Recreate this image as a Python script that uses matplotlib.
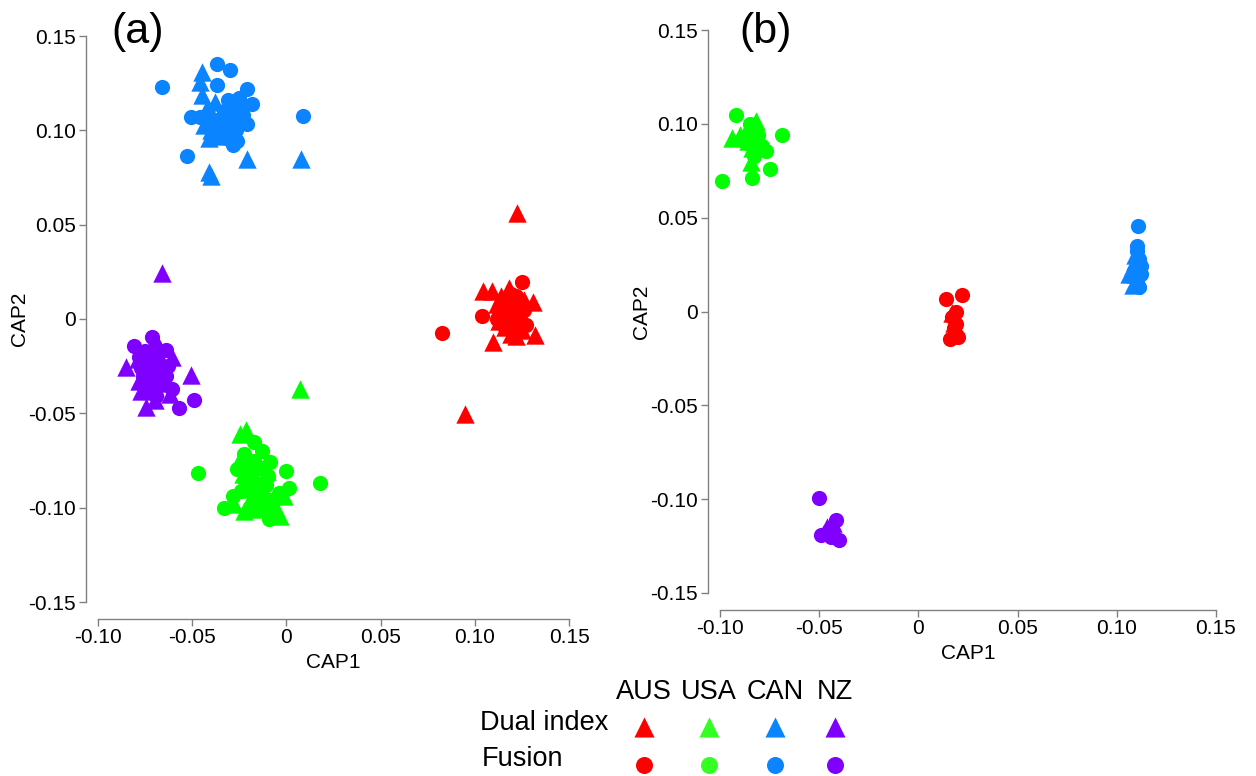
import matplotlib
matplotlib.use("Agg")
import matplotlib.pyplot as plt

plt.rcParams['font.family'] = ['Liberation Sans', 'DejaVu Sans']

countries = ["AUS", "USA", "CAN", "NZ"]
colors = {"AUS": "#FF0000", "USA": "#00FF00", "CAN": "#0A84FF", "NZ": "#8000FF"}
legend_colors = {"AUS": "#FF0000", "USA": "#33FF22", "CAN": "#0A84FF", "NZ": "#8000FF"}
methods = ["Dual index", "Fusion"]
x_ticks = [-0.10, -0.05, 0, 0.05, 0.10, 0.15]
x_ticklabels = ["-0.10", "-0.05", "0", "0.05", "0.10", "0.15"]
y_ticks = [-0.15, -0.10, -0.05, 0, 0.05, 0.10, 0.15]
y_ticklabels = ["-0.15", "-0.10", "-0.05", "0", "0.05", "0.10", "0.15"]

# ---- Panel (a) ----
a_AUS_dual = [(0.1225, 0.0563), (0.1045, 0.0151), (0.109, 0.0151), (0.1183, 0.0164), (0.131, 0.0092),
              (0.1095, -0.0121), (0.1319, -0.0085), (0.0948, -0.0503), (0.112, 0.008), (0.116, -0.004),
              (0.121, 0.003), (0.125, -0.006), (0.114, 0.012), (0.119, -0.008), (0.113, -0.001),
              (0.126, 0.010), (0.117, 0.006), (0.122, -0.009)]
a_AUS_fusion = [(0.1248, 0.0194), (0.1037, 0.0016), (0.0825, -0.0076), (0.1195, 0.0048), (0.115, 0.010),
                (0.122, 0.012), (0.118, -0.002), (0.124, 0.002), (0.113, 0.004), (0.127, -0.003),
                (0.120, 0.008), (0.116, -0.005), (0.112, 0.000), (0.119, 0.013), (0.123, -0.004),
                (0.117, 0.002), (0.121, -0.007), (0.114, 0.007), (0.126, 0.005)]
a_USA_dual = [(-0.0244, -0.061), (-0.0217, -0.059), (0.0074, -0.0373), (-0.0032, -0.1045), (-0.0226, -0.1018),
              (-0.0102, -0.0805), (-0.0014, -0.0938), (-0.018, -0.1005), (-0.028, -0.098), (-0.013, -0.097),
              (-0.020, -0.090), (-0.016, -0.085), (-0.006, -0.099), (-0.025, -0.075), (-0.019, -0.095),
              (-0.012, -0.091), (-0.023, -0.082)]
a_USA_fusion = [(-0.0173, -0.0654), (-0.047, -0.0817), (0.018, -0.0867), (0.0, -0.0805), (0.0012, -0.0894),
                (-0.0332, -0.1004), (-0.0282, -0.0938), (-0.0094, -0.1062), (-0.0085, -0.076), (-0.0226, -0.0716),
                (-0.0261, -0.0796), (-0.018, -0.0867), (-0.014, -0.079), (-0.020, -0.083), (-0.011, -0.088),
                (-0.016, -0.094), (-0.004, -0.092), (-0.022, -0.086), (-0.013, -0.070), (-0.008, -0.096),
                (-0.017, -0.075), (-0.021, -0.078), (-0.015, -0.089), (-0.010, -0.083), (-0.019, -0.099),
                (-0.012, -0.101), (-0.024, -0.091)]
a_CAN_dual = [(-0.0447, 0.131), (-0.0456, 0.1256), (-0.0447, 0.1185), (-0.0411, 0.0777), (-0.0400, 0.0760),
              (-0.0208, 0.0848), (0.0075, 0.0848), (-0.0430, 0.109), (-0.0400, 0.100), (-0.038, 0.097),
              (-0.035, 0.104), (-0.042, 0.112), (-0.033, 0.099), (-0.030, 0.107), (-0.038, 0.115),
              (-0.027, 0.111), (-0.044, 0.103), (-0.036, 0.101), (-0.041, 0.096), (-0.032, 0.102),
              (-0.039, 0.107)]
a_CAN_fusion = [(-0.0658, 0.123), (-0.0367, 0.135), (-0.0297, 0.132), (-0.0367, 0.1238), (-0.0208, 0.122),
                (-0.0182, 0.114), (-0.0508, 0.107), (-0.0208, 0.1034), (-0.0261, 0.0945), (-0.0282, 0.092),
                (-0.0526, 0.0865), (0.0088, 0.1075), (-0.025, 0.117), (-0.028, 0.113), (-0.033, 0.110),
                (-0.023, 0.108), (-0.030, 0.104), (-0.046, 0.107), (-0.035, 0.106), (-0.027, 0.100),
                (-0.031, 0.116), (-0.026, 0.106), (-0.034, 0.099), (-0.029, 0.110), (-0.024, 0.112),
                (-0.037, 0.103), (-0.032, 0.096)]
a_NZ_dual = [(-0.0853, -0.0254), (-0.0508, -0.0298), (-0.0747, -0.0467), (-0.0662, 0.0245), (-0.0605, -0.0201),
             (-0.0700, -0.0430), (-0.0780, -0.033), (-0.072, -0.018), (-0.066, -0.028), (-0.075, -0.024),
             (-0.070, -0.036), (-0.062, -0.040), (-0.079, -0.021), (-0.068, -0.014), (-0.073, -0.029),
             (-0.065, -0.034), (-0.077, -0.038)]
a_NZ_fusion = [(-0.0570, -0.047), (-0.049, -0.0427), (-0.0711, -0.0094), (-0.0809, -0.0144), (-0.064, -0.0165),
               (-0.0605, -0.037), (-0.072, -0.027), (-0.076, -0.030), (-0.068, -0.022), (-0.074, -0.038),
               (-0.066, -0.032), (-0.078, -0.020), (-0.070, -0.015), (-0.063, -0.025), (-0.073, -0.033),
               (-0.069, -0.041), (-0.071, -0.022), (-0.067, -0.027), (-0.075, -0.017), (-0.064, -0.030),
               (-0.072, -0.036), (-0.077, -0.026), (-0.069, -0.031)]

# ---- Panel (b) ----
b_AUS_dual = [(0.017, -0.001), (0.018, -0.006)]
b_AUS_fusion = [(0.014, 0.0064), (0.0219, 0.009), (0.019, -0.0004), (0.019, -0.0064), (0.0157, -0.0145),
                (0.0198, -0.0137), (0.017, -0.003), (0.018, -0.009)]
b_USA_dual = [(-0.0938, 0.0927), (-0.0845, 0.0794), (-0.082, 0.1016), (-0.087, 0.096), (-0.090, 0.094),
              (-0.084, 0.087), (-0.086, 0.091)]
b_USA_fusion = [(-0.0921, 0.1048), (-0.0685, 0.0941), (-0.0988, 0.0693), (-0.0837, 0.0711), (-0.0749, 0.0759),
                (-0.0854, 0.0892), (-0.0769, 0.0856), (-0.085, 0.100), (-0.081, 0.094), (-0.088, 0.091),
                (-0.079, 0.088), (-0.083, 0.083)]
b_CAN_dual = [(0.106, 0.020), (0.108, 0.024), (0.109, 0.020), (0.110, 0.016), (0.108, 0.014), (0.109, 0.027),
              (0.109, 0.030)]
b_CAN_fusion = [(0.1106, 0.0457), (0.110, 0.032), (0.111, 0.028), (0.112, 0.020), (0.111, 0.013),
                (0.110, 0.017), (0.112, 0.024), (0.110, 0.035)]
b_NZ_dual = [(-0.043, -0.1125), (-0.046, -0.115), (-0.042, -0.117)]
b_NZ_fusion = [(-0.050, -0.0996), (-0.0491, -0.119), (-0.0399, -0.1218), (-0.0416, -0.1112), (-0.045, -0.1165),
               (-0.044, -0.120)]

panel_a = {("AUS", "Dual index"): a_AUS_dual, ("AUS", "Fusion"): a_AUS_fusion,
           ("USA", "Dual index"): a_USA_dual, ("USA", "Fusion"): a_USA_fusion,
           ("CAN", "Dual index"): a_CAN_dual, ("CAN", "Fusion"): a_CAN_fusion,
           ("NZ", "Dual index"): a_NZ_dual, ("NZ", "Fusion"): a_NZ_fusion}
panel_b = {("AUS", "Dual index"): b_AUS_dual, ("AUS", "Fusion"): b_AUS_fusion,
           ("USA", "Dual index"): b_USA_dual, ("USA", "Fusion"): b_USA_fusion,
           ("CAN", "Dual index"): b_CAN_dual, ("CAN", "Fusion"): b_CAN_fusion,
           ("NZ", "Dual index"): b_NZ_dual, ("NZ", "Fusion"): b_NZ_fusion}

marker_of = {"Dual index": "^", "Fusion": "o"}
size_of = {"Dual index": 175, "Fusion": 120}

W, H = 1256, 776
fig = plt.figure(figsize=(W / 100, H / 100), dpi=100)

def px_rect(x0, x1, ytop, ybot):
    return [x0 / W, 1 - ybot / H, (x1 - x0) / W, (ybot - ytop) / H]

ax_a = fig.add_axes(px_rect(98, 569, 36, 602))
ax_b = fig.add_axes(px_rect(720, 1216, 30, 593))

spine_col = "#808080"

def style(ax, data, label, left_off, bot_off, label_xy):
    for method in methods:
        for c in countries:
            pts = data[(c, method)]
            xs = [p[0] for p in pts]
            ys = [p[1] for p in pts]
            ax.scatter(xs, ys, marker=marker_of[method], s=size_of[method], c=colors[c],
                       linewidths=0, clip_on=False, zorder=3)
    ax.set_xlim(-0.10, 0.15)
    ax.set_ylim(-0.15, 0.15)
    ax.set_xticks(x_ticks)
    ax.set_xticklabels(x_ticklabels)
    ax.set_yticks(y_ticks)
    ax.set_yticklabels(y_ticklabels)
    for s in ["top", "right"]:
        ax.spines[s].set_visible(False)
    ax.spines["left"].set_position(("outward", left_off))
    ax.spines["bottom"].set_position(("outward", bot_off))
    for s in ["left", "bottom"]:
        ax.spines[s].set_color(spine_col)
        ax.spines[s].set_linewidth(1.0)
    ax.tick_params(axis="both", direction="out", length=5, width=1.0, color=spine_col,
                   labelsize=15, labelcolor="black", pad=2)
    ax.set_xlabel("CAP1", fontsize=15, labelpad=4)
    ax.set_ylabel("CAP2", fontsize=15, labelpad=-1)
    ax.patch.set_alpha(0)
    fig.text(label_xy[0] / W, 1 - label_xy[1] / H, label, fontsize=31, ha="center", va="center")

style(ax_a, panel_a, "(a)", 9, 12, (138, 32))
style(ax_b, panel_b, "(b)", 9, 12, (766, 32))

# ---- custom legend ----
leg = fig.add_axes([0, 0, 1, 1])
leg.set_xlim(0, W)
leg.set_ylim(H, 0)
leg.axis("off")
col_x = [644, 709, 775, 835]
for c, x in zip(countries, col_x):
    leg.text(x, 692, c, fontsize=19.5, ha="center", va="center")
    leg.scatter([x], [727], marker="^", s=210, c=legend_colors[c], linewidths=0)
    leg.scatter([x], [765], marker="o", s=150, c=legend_colors[c], linewidths=0)
leg.text(480, 723, methods[0], fontsize=19.5, ha="left", va="center")
leg.text(482, 759, methods[1], fontsize=19.5, ha="left", va="center")

fig.savefig("out.png", dpi=100)
